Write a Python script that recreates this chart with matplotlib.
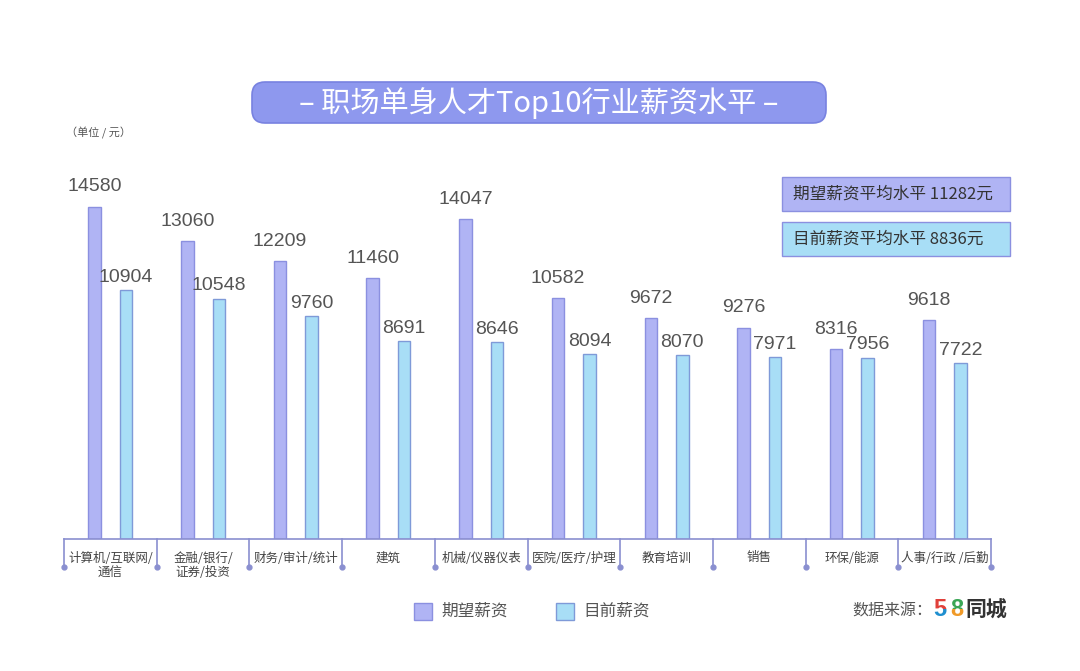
import numpy as np
import matplotlib
matplotlib.use("Agg")
from matplotlib import pyplot as plt
from matplotlib.patches import FancyBboxPatch, Rectangle
from matplotlib.transforms import Bbox, TransformedBbox

plt.rcParams['font.family'] = ['Noto Sans CJK SC', 'DejaVu Sans']

categories = ["计算机/互联网/\n通信", "金融/银行/\n证券/投资", "财务/审计/统计", "建筑",
              "机械/仪器仪表", "医院/医疗/护理", "教育培训", "销售", "环保/能源", "人事/行政 /后勤"]
expected = [14580, 13060, 12209, 11460, 14047, 10582, 9672, 9276, 8316, 9618]
current = [10904, 10548, 9760, 8691, 8646, 8094, 8070, 7971, 7956, 7722]
series_names = ["期望薪资", "目前薪资"]
avg_labels = ["期望薪资平均水平 11282元", "目前薪资平均水平 8836元"]
title = "– 职场单身人才Top10行业薪资水平 –"

c_exp, e_exp = "#b0b4f4", "#8b90e0"
c_cur, e_cur = "#a8def6", "#7f9ad8"
line_col = "#8a8fd0"

W, H = 1080, 671
fig = plt.figure(figsize=(W / 100, H / 100), dpi=100)
ax = fig.add_axes([64 / W, 132 / H, 927 / W, 409 / H])

x = np.arange(len(categories))
bw = 0.135
off = 0.17
b1 = ax.bar(x - off, expected, bw, color=c_exp, edgecolor=e_exp, linewidth=1)
b2 = ax.bar(x + off, current, bw, color=c_cur, edgecolor=e_cur, linewidth=1)

for bars, vals, dy in ((b1, expected, 8), (b2, current, 3)):
    for r, v in zip(bars, vals):
        ax.annotate(str(v), (r.get_x() + r.get_width() / 2, v), xytext=(0, dy),
                    textcoords="offset points", ha="center", va="bottom",
                    fontsize=14, color="#555555", family=["Liberation Sans"])

ax.set_xlim(-0.5, len(categories) - 0.5)
ax.set_ylim(0, 17940)
for s in ("top", "right", "left"):
    ax.spines[s].set_visible(False)
ax.spines["bottom"].set_color(line_col)
ax.spines["bottom"].set_linewidth(1.2)
ax.set_xticks([])
ax.set_yticks([])

# group separators with dots
tr = ax.get_xaxis_transform()
for sx in np.arange(len(categories) + 1) - 0.5:
    ax.plot([sx, sx], [0, -0.068], color=line_col, lw=1.2, transform=tr, clip_on=False)
    ax.plot([sx], [-0.068], marker="o", ms=3.5, color=line_col, transform=tr, clip_on=False)

for i, lab in enumerate(categories):
    ax.annotate(lab, (i, 0), xycoords=tr, xytext=(0, -9), textcoords="offset points",
                ha="center", va="top", fontsize=9, color="#444444", linespacing=1.2)

# overlay in pixel coordinates for the decorations
ov = fig.add_axes([0, 0, 1, 1])
ov.set_xlim(0, W)
ov.set_ylim(H, 0)
ov.axis("off")
ov.patch.set_alpha(0)

ov.add_patch(FancyBboxPatch((252, 82), 574, 41, boxstyle="round,pad=0,rounding_size=13",
                            facecolor="#8e98ee", edgecolor="#7882e0", linewidth=1.2))
ov.text(539, 103, title, ha="center", va="center", fontsize=21, color="white")

ov.text(66, 133, "（单位 / 元）", ha="left", va="center", fontsize=8, color="#555555")

# average boxes
for j, (lab, fc) in enumerate(zip(avg_labels, (c_exp, c_cur))):
    top = 177 + j * 45
    ov.add_patch(Rectangle((782, top), 228, 34, facecolor=fc, edgecolor=e_exp, linewidth=1))
    ov.text(793, top + 17, lab, ha="left", va="center", fontsize=12, color="#333333")

# bottom legend
for j, (lab, fc, ec) in enumerate(zip(series_names, (c_exp, c_cur), (e_exp, e_cur))):
    lx = 414 + j * 142
    ov.add_patch(Rectangle((lx, 603), 18, 17, facecolor=fc, edgecolor=ec, linewidth=1))
    ov.text(lx + 27, 611, lab, ha="left", va="center", fontsize=12, color="#555555")

ov.text(852, 611, "数据来源：", ha="left", va="center", fontsize=11.5, color="#555555")
# 58 logo: two-tone digits
for ch, cx, ctop, cbot in (("5", 940, "#e0403a", "#1f8fcf"), ("8", 957, "#3aa655", "#f09a28")):
    for col, y0, y1 in ((ctop, 590, 609), (cbot, 609, 630)):
        t = ov.text(cx, 610, ch, ha="center", va="center", fontsize=17,
                    fontweight="bold", color=col, family=["Liberation Sans"])
        t.set_clip_on(True)
        t.set_clip_path(None)
        t.set_clip_box(TransformedBbox(Bbox.from_extents(cx - 15, y0, cx + 15, y1), ov.transData))
ov.text(965, 610, "同城", ha="left", va="center", fontsize=15,
        fontweight="bold", color="#333333")

fig.savefig("out.png", dpi=100, facecolor="white")
